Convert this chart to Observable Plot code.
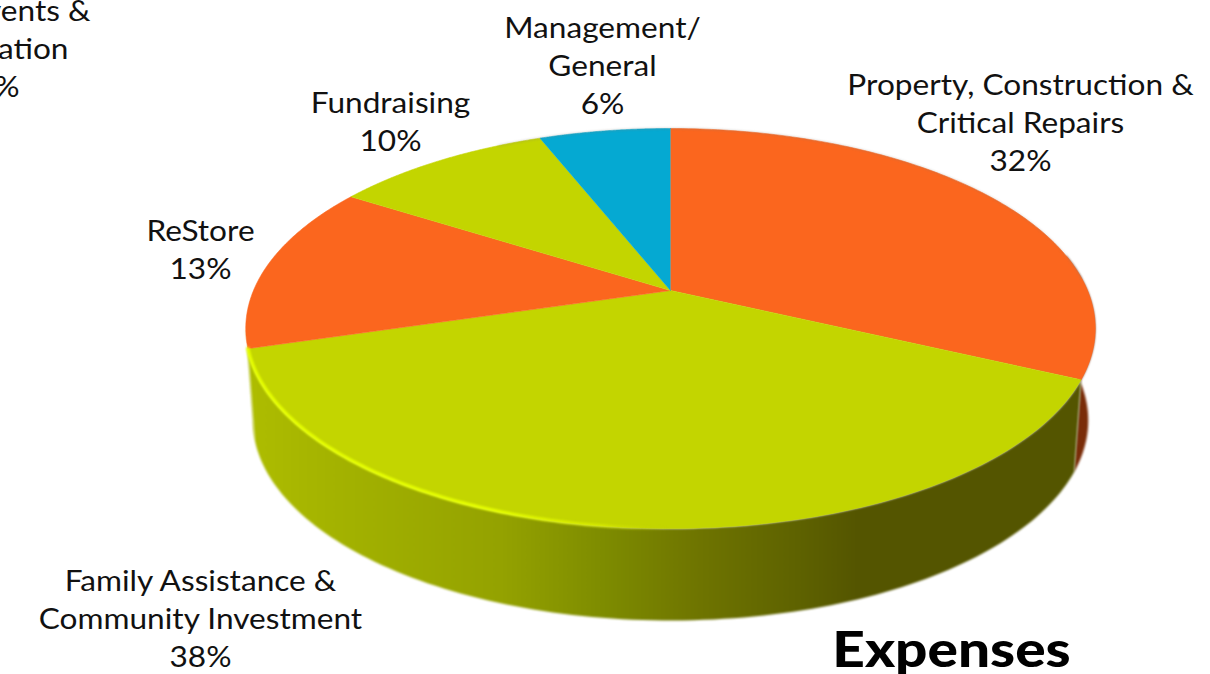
<!DOCTYPE html>
<html>
<head>
<meta charset="utf-8">
<style>html,body{margin:0;padding:0;background:#fff;overflow:hidden}svg{display:block}</style>
<script src="https://cdn.jsdelivr.net/npm/d3@7"></script>
<script src="https://cdn.jsdelivr.net/npm/@observablehq/plot@0.6"></script>
</head>
<body>
<div id="chart"></div>
<script>
const categories = ["Property, Construction & Critical Repairs","Family Assistance & Community Investment","ReStore","Events & Education","Fundraising","Management/General"];
const shares = [32, 38.4, 12.6, 1, 10, 6];
const sliceGroups = ["warm","leaf","warm","warm","leaf","sky"];
const labelLines = [
  ["Property, Construction &","Critical Repairs","32%"],
  ["Family Assistance &","Community Investment","38%"],
  ["ReStore","13%"],
  ["Events &","Education","1%"],
  ["Fundraising","10%"],
  ["Management/","General","6%"]
];
const labelX = [1020, 200, 200, null, 390, 602];
const labelFirstBaseline = [94, 590, 240, null, 112, 37];
const clippedX = [90, 68, 19];
const clippedBaseline = [20, 58, 96];
const lineStep = 38;

// Projection of the tilted disc: share angle -> picture position
const cx = 670, tilt = -0.19, a = 137.68, b = 290;
function rim(theta, depth = 0) {
  const u = Math.sin(theta), v = -Math.cos(theta), w = 1 + tilt * v;
  const scale = depth ? 418 / 425 : 1;
  return {x: cx + scale * 417 * u / w, y: (a * v + b) / w + depth};
}
const angle = (p) => (p / 100) * 2 * Math.PI;
const sampled = (p0, p1) => d3.range(0, 121).map((i) => angle(p0 + (p1 - p0) * i / 120));

// Neighbouring slices of one colour are drawn as one shape, as in the reference.
const slicePts = [];
{
  let start = 0, run = 0;
  shares.forEach((s, i) => {
    const end = start + s;
    if (i === 0 || sliceGroups[i] !== sliceGroups[i - 1]) {
      run += 1;
      slicePts.push({run, group: sliceGroups[i], x: cx, y: b});
    }
    for (const t of sampled(start, end)) slicePts.push({run, group: sliceGroups[i], ...rim(t)});
    start = end;
  });
}

const depth = 92;
function sidePoly(p0, p1) {
  const ts = sampled(p0, p1);
  return [...ts.map((t) => rim(t)), ...ts.slice().reverse().map((t) => rim(t, depth))];
}
const limeSide = sidePoly(32, 70.4);
const orangeSide = sidePoly(22, 32);
const leftTail = sidePoly(70.4, 72);
const rimPts = sampled(47, 70.4).map((t) => rim(t));
const edgePts = sampled(-8, 24).map((t) => rim(t));

const defs = () => {
  const ns = "http://www.w3.org/2000/svg";
  const d = document.createElementNS(ns, "defs");
  const grad = (id, stops) => {
    const g = document.createElementNS(ns, "linearGradient");
    g.setAttribute("id", id);
    g.setAttribute("gradientUnits", "userSpaceOnUse");
    g.setAttribute("x1", 245); g.setAttribute("x2", 1095);
    g.setAttribute("y1", 0); g.setAttribute("y2", 0);
    for (const [o, c, op] of stops) {
      const s = document.createElementNS(ns, "stop");
      s.setAttribute("offset", o); s.setAttribute("stop-color", c);
      if (op != null) s.setAttribute("stop-opacity", op);
      g.appendChild(s);
    }
    d.appendChild(g);
  };
  grad("sideLime", [[0,"#aebd00"],[0.1,"#a4b300"],[0.3,"#94a200"],[0.42,"#7e8c00"],[0.535,"#6e7400"],[0.65,"#5e6200"],[0.72,"#545500"],[1,"#545500"]]);
  grad("sideOrange", [[0.9,"#7a2c08"],[1,"#7a2c08"]]);
  grad("rimLight", [[0,"#e6ff00",1],[0.3,"#e6ff00",1],[0.42,"#dcf000",0.7],[0.5,"#c4d600",0]]);
  return d;
};

const blur = "blur(0.8px)";
const plot = Plot.plot({
  width: 1210, height: 674,
  margin: 0,
  x: {domain: [0, 1210], range: [0, 1210], axis: null},
  y: {domain: [0, 674], range: [0, 674], axis: null},
  color: {domain: ["warm","leaf","sky"], range: ["#fb661e","#c3d500","#05a9d2"]},
  marks: [
    defs,
    Plot.line(orangeSide, {x: "x", y: "y", fill: "url(#sideOrange)", stroke: "none", imageFilter: blur}),
    Plot.line(leftTail, {x: "x", y: "y", fill: "#aebd00", stroke: "none", imageFilter: blur}),
    Plot.line(limeSide, {x: "x", y: "y", fill: "url(#sideLime)", stroke: "none", imageFilter: blur}),
    Plot.line(slicePts, {x: "x", y: "y", z: "run", fill: "group", stroke: "group", strokeWidth: 0.6, imageFilter: "blur(0.5px)"}),
    Plot.line(edgePts, {x: "x", y: "y", stroke: "#8a8078", strokeOpacity: 0.45, strokeWidth: 1, imageFilter: blur}),
    Plot.line(rimPts, {x: "x", y: "y", stroke: "url(#rimLight)", strokeWidth: 3.4, imageFilter: blur}),
    ...labelLines.flatMap((lines, i) => labelX[i] == null ? [] : [
      Plot.text(lines.map((t, j) => ({t, y: labelFirstBaseline[i] + j * lineStep})), {
        x: () => labelX[i], y: "y", text: "t", textAnchor: "middle", lineAnchor: "bottom",
        fontFamily: "Lato", fontSize: 29, fill: "#111"
      })
    ]),
    Plot.text(labelLines[3].map((t, j) => ({t, x: clippedX[j], y: clippedBaseline[j]})), {
      x: "x", y: "y", text: "t", textAnchor: "end", lineAnchor: "bottom",
      fontFamily: "Lato", fontSize: 29, fill: "#111"
    }),
    Plot.text(["Expenses"], {
      x: () => 951, y: () => 666, textAnchor: "middle", lineAnchor: "bottom",
      fontFamily: "Lato", fontWeight: 900, fontSize: 50, fill: "#000"
    })
  ]
});
// The reference's lettering is stretched sideways with its picture.
plot.querySelectorAll("text").forEach((t) => {
  const tr = t.getAttribute("transform") || "";
  const sx = t.textContent === "Expenses" ? 1.135 : 1.09;
  t.setAttribute("transform", tr + ` scale(${sx},1)`);
});
document.getElementById("chart").appendChild(plot);
</script>
</body>
</html>
